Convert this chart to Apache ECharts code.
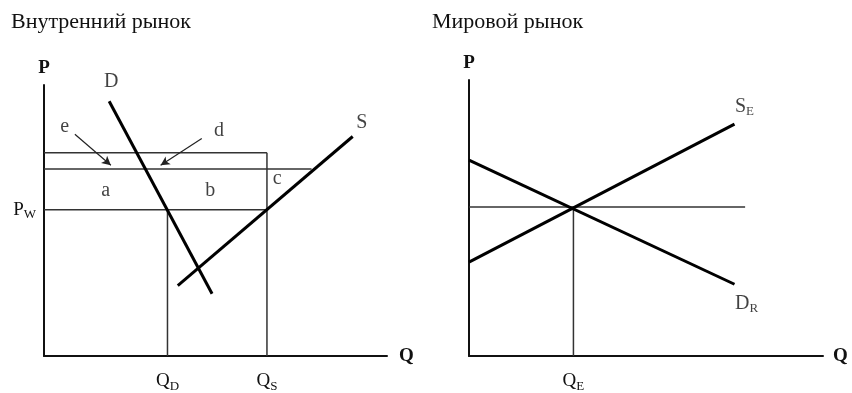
<!DOCTYPE html>
<html>
<head>
<meta charset="utf-8">
<script src="https://cdn.jsdelivr.net/npm/echarts@6/dist/echarts.min.js"></script>
<style>
  html, body { margin: 0; padding: 0; background: #fff; }
  #main { width: 852px; height: 393px; }
</style>
</head>
<body>
<div id="main"></div>
<script>
"use strict";

// внутренний рынок (условные единицы 0..10)
const domDemand = [[1.9, 9.4], [4.9, 2.3]];
const domSupply = [[3.9, 2.6], [9.0, 8.1]];
const domPrices = [5.4, 6.9, 7.5];     // P_W, цена с пошлиной, верх
const domQty = [3.6, 6.5];             // Q_D, Q_S
const domMidEnd = 7.8;                 // где средняя линия встречает S
const domLetters = [
  ['a', 1.8, 6.1], ['b', 4.85, 6.1], ['c', 6.8, 6.55],
  ['e', 0.6, 8.45], ['d', 5.1, 8.3],
];
const domArrows = [
  [[0.9, 8.18], [1.95, 7.04]],
  [[4.6, 8.03], [3.4, 7.04]],
];

// мировой рынок
const worldDemand = [[0, 7.1], [7.5, 2.6]];
const worldSupply = [[0, 3.4], [7.5, 8.4]];
const worldEq = [2.95, 5.4];           // Q_E, цена
const worldLineEnd = 7.8;

const FONT = '"Liberation Serif", "Times New Roman", serif';
const INK = '#111';
const THIN = '#333';

let myChart = echarts.init(document.getElementById('main'), null, { renderer: 'canvas' });

const rich = {
  m: { fontFamily: FONT, fontSize: 19, color: INK },
  s: { fontFamily: FONT, fontSize: 13, color: INK, padding: [10, 0, 0, 0] },
};

function seg(a, b, width, color) {
  return {
    type: 'line',
    data: [a, b],
    showSymbol: false,
    silent: true,
    lineStyle: { width: width, color: color },
  };
}

function baseX(idx, custom, fmt, nameGap) {
  return {
    gridIndex: idx,
    type: 'value',
    min: 0,
    max: 10,
    name: 'Q',
    nameLocation: 'end',
    nameGap: nameGap,
    nameTextStyle: { fontFamily: FONT, fontSize: 19, fontWeight: 'bold', color: INK, verticalAlign: 'middle' },
    axisLine: { lineStyle: { color: INK, width: 2 } },
    axisTick: { show: false },
    splitLine: { show: false },
    axisLabel: {
      customValues: custom,
      margin: 14,
      formatter: fmt,
      rich: rich,
    },
  };
}

function baseY(idx, custom, fmt) {
  return {
    gridIndex: idx,
    type: 'value',
    min: 0,
    max: 10,
    name: 'P',
    nameLocation: 'end',
    nameGap: 7,
    nameTextStyle: { fontFamily: FONT, fontSize: 19, fontWeight: 'bold', color: INK, align: 'center' },
    axisLine: { lineStyle: { color: INK, width: 2 } },
    axisTick: { show: false },
    splitLine: { show: false },
    axisLabel: {
      show: custom.length > 0,
      customValues: custom,
      margin: 8,
      formatter: fmt,
      rich: rich,
    },
  };
}

let series = [];

// левая панель: тонкие линии
const [pW, pMid, pTop] = domPrices;
const [qD, qS] = domQty;
[
  seg([0, pTop], [qS, pTop], 1.5, THIN),
  seg([qS, 0], [qS, pTop], 1.5, THIN),
  seg([0, pMid], [domMidEnd, pMid], 1.5, THIN),
  seg([0, pW], [qS, pW], 1.5, THIN),
  seg([qD, 0], [qD, pW], 1.5, THIN),
].forEach(function (s) { s.xAxisIndex = 0; s.yAxisIndex = 0; series.push(s); });

// D и S
series.push({
  type: 'line', xAxisIndex: 0, yAxisIndex: 0, data: domDemand, showSymbol: false, silent: true,
  lineStyle: { width: 3, color: '#000' },
});
series.push({
  type: 'line', xAxisIndex: 0, yAxisIndex: 0, data: domSupply, showSymbol: false, silent: true,
  lineStyle: { width: 3, color: '#000' },
});

// буквы и стрелки
series.push({
  type: 'scatter', xAxisIndex: 0, yAxisIndex: 0, symbolSize: 0, silent: true,
  data: domLetters.map(function (l) { return { name: l[0], value: [l[1], l[2]] }; })
    .concat([
      { name: 'D', value: domDemand[0], label: { position: 'top', distance: 10, offset: [2, 0] } },
      { name: 'S', value: domSupply[1], label: { position: 'top', distance: 4, offset: [9, 0] } },
    ]),
  label: {
    show: true, position: 'inside', formatter: '{b}',
    fontFamily: FONT, fontSize: 20, color: INK,
  },
  markLine: {
    silent: true,
    symbol: ['none', 'arrow'],
    symbolSize: [7, 9],
    label: { show: false },
    lineStyle: { type: 'solid', width: 1.2, color: '#222' },
    data: domArrows.map(function (a) { return [{ coord: a[0] }, { coord: a[1] }]; }),
  },
});

// правая панель
const [qE, pE] = worldEq;
[
  seg([0, pE], [worldLineEnd, pE], 1.5, THIN),
  seg([qE, 0], [qE, pE], 1.5, THIN),
].forEach(function (s) { s.xAxisIndex = 1; s.yAxisIndex = 1; series.push(s); });
series.push({
  type: 'line', xAxisIndex: 1, yAxisIndex: 1, data: worldDemand, showSymbol: false, silent: true,
  lineStyle: { width: 3, color: '#000' },
});
series.push({
  type: 'line', xAxisIndex: 1, yAxisIndex: 1, data: worldSupply, showSymbol: false, silent: true,
  lineStyle: { width: 3, color: '#000' },
});
series.push({
  type: 'scatter', xAxisIndex: 1, yAxisIndex: 1, symbolSize: 0, silent: true,
  data: [
    { name: 'S', sub: 'E', value: worldSupply[1], label: { position: 'top', distance: 6, offset: [10, 0] } },
    { name: 'D', sub: 'R', value: worldDemand[1], label: { position: 'bottom', distance: 8, offset: [12, 0] } },
  ],
  label: {
    show: true,
    formatter: function (p) { return '{m|' + p.data.name + '}{s|' + p.data.sub + '}'; },
    rich: {
      m: { fontFamily: FONT, fontSize: 20, color: INK },
      s: { fontFamily: FONT, fontSize: 13, color: INK, padding: [10, 0, 0, 0] },
    },
  },
});

let option = {
  animation: false,
  title: [
    {
      text: 'Внутренний рынок', left: 11, top: 11, padding: 0,
      textStyle: { fontFamily: FONT, fontSize: 22, fontWeight: 'normal', color: INK },
    },
    {
      text: 'Мировой рынок', left: 432, top: 11, padding: 0,
      textStyle: { fontFamily: FONT, fontSize: 22, fontWeight: 'normal', color: INK },
    },
  ],
  grid: [
    { left: 44, top: 85, width: 343, height: 274 },
    { left: 469, top: 80, width: 354, height: 278 },
  ],
  xAxis: [
    baseX(0, domQty, function (v) { return v === qD ? '{m|Q}{s|D}' : '{m|Q}{s|S}'; }, 12),
    baseX(1, [qE], function () { return '{m|Q}{s|E}'; }, 10),
  ],
  yAxis: [
    baseY(0, [pW], function () { return '{m|P}{s|W}'; }),
    baseY(1, [], function () { return ''; }),
  ],
  series: series,
};

myChart.setOption(option);
</script>
</body>
</html>
